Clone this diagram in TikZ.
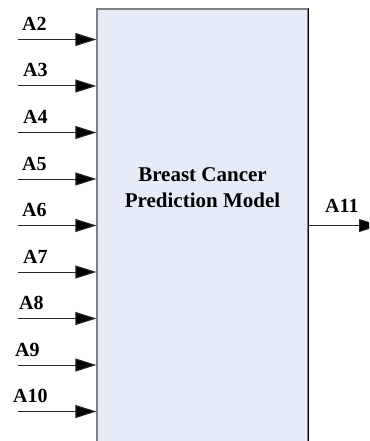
\documentclass[tikz,border=0pt]{standalone}
\usepackage{fontspec}
\setmainfont{Liberation Serif}
\usetikzlibrary{arrows.meta}
\definecolor{boxfill}{RGB}{230,236,247}
\definecolor{boxedge}{RGB}{128,128,128}
\definecolor{wire}{RGB}{40,40,40}
\tikzset{
  x=1pt, y=-1pt,
  inarrow/.style={draw=wire, line width=1pt, -{Triangle[length=21pt,width=13pt,fill=black]}},
  lbl/.style={anchor=base west, inner sep=0pt, font=\fontsize{20}{20}\selectfont\bfseries},
  modelbox/.style={fill=boxfill, draw=boxedge, line width=1.3pt, minimum width=211pt,
    minimum height=452pt, inner sep=0pt}
}
\begin{document}
\begin{tikzpicture}
  \useasboundingbox (0,0) rectangle (369,441);
  \clip (0,0) rectangle (369,441);
  % the model block, running past the lower edge
  \node[modelbox] (model) at (202.5,235) {};
  \draw[black, line width=1.3pt] (model.north east) -- (model.south east);
  \node[anchor=base, inner sep=0pt, align=center,
        font=\fontsize{21}{26}\selectfont\bfseries] (title) at (202.5,207)
        {Breast Cancer\\Prediction Model};
  % input attributes A2 ... A10
  \foreach \n/\lx [count=\i from 0] in {2/22,3/23,4/23,5/22,6/22,7/23,8/19,9/15,10/13} {
    \pgfmathsetmacro\yy{39.5+46.5*\i}
    \coordinate (s\n) at (18,\yy);
    \node[lbl] (a\n) at (\lx,\yy-9) {A\n};
    \draw[inarrow] (s\n) -- (s\n -| model.west);
  }
  % output attribute
  \coordinate (o11) at (380,225.5);
  \node[lbl] (a11) at (325,212) {A11};
  \draw[inarrow] (o11 -| model.east) -- (o11);
\end{tikzpicture}
\end{document}
